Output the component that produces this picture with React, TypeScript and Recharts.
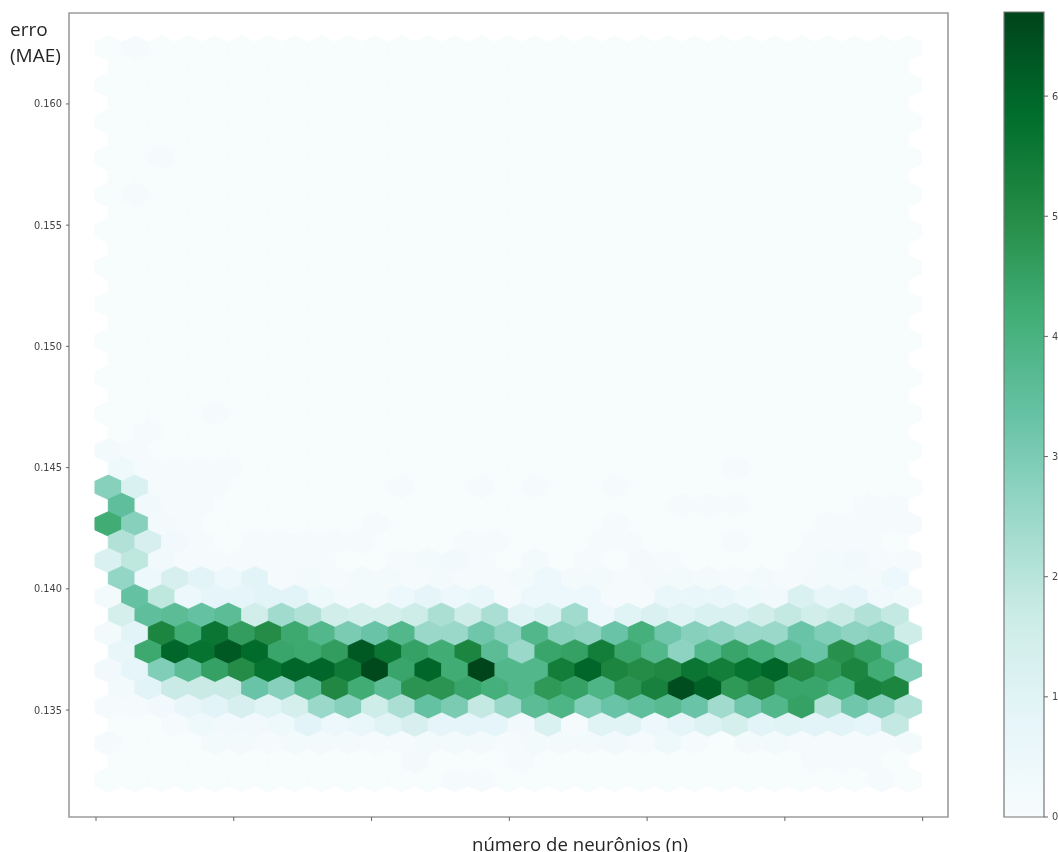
import {
  Bar,
  BarChart,
  ReferenceArea,
  Scatter,
  ScatterChart,
  XAxis,
  YAxis,
} from 'recharts';

// hexbin grid: odd rows sit half a cell to the right
const columnsWide = [
  4.46, 14.14, 23.82, 33.49, 43.17, 52.85, 62.52, 72.2, 81.88, 91.55, 101.23, 110.91, 120.58, 130.26, 139.94, 149.62,
  159.29, 168.97, 178.65, 188.32, 198.0, 207.68, 217.35, 227.03, 236.71, 246.39, 256.06, 265.74, 275.42, 285.09, 294.77,
];
const columnsNarrow = [
  9.3, 18.98, 28.66, 38.33, 48.01, 57.69, 67.36, 77.04, 86.72, 96.39, 106.07, 115.75, 125.42, 135.1, 144.78, 154.46,
  164.13, 173.81, 183.49, 193.16, 202.84, 212.52, 222.19, 231.87, 241.55, 251.23, 260.9, 270.58, 280.26, 289.93,
];
const rowErrors = [
  0.1623, 0.16155, 0.16079, 0.16004, 0.15928, 0.15853, 0.15777, 0.15702, 0.15626, 0.15551, 0.15476, 0.154, 0.15325,
  0.15249, 0.15174, 0.15098, 0.15023, 0.14947, 0.14872, 0.14797, 0.14721, 0.14646, 0.1457, 0.14495, 0.14419, 0.14344,
  0.14268, 0.14193, 0.14117, 0.14042, 0.13967, 0.13891, 0.13816, 0.1374, 0.13665, 0.13589, 0.13514, 0.13438, 0.13363,
  0.13288, 0.13212,
];

// counts per cell, top row first
const rowCounts = [
  [0, 1, 0, 0, 0, 0, 0, 0, 0, 0, 0, 0, 0, 0, 0, 0, 0, 0, 0, 0, 0, 0, 0, 0, 0, 0, 0, 0, 0, 0, 0],
  [0, 0, 0, 0, 0, 0, 0, 0, 0, 0, 0, 0, 0, 0, 0, 0, 0, 0, 0, 0, 0, 0, 0, 0, 0, 0, 0, 0, 0, 0],
  [0, 0, 0, 0, 0, 0, 0, 0, 0, 0, 0, 0, 0, 0, 0, 0, 0, 0, 0, 0, 0, 0, 0, 0, 0, 0, 0, 0, 0, 0, 0],
  [0, 0, 0, 0, 0, 0, 0, 0, 0, 0, 0, 0, 0, 0, 0, 0, 0, 0, 0, 0, 0, 0, 0, 0, 0, 0, 0, 0, 0, 0],
  [0, 0, 0, 0, 0, 0, 0, 0, 0, 0, 0, 0, 0, 0, 0, 0, 0, 0, 0, 0, 0, 0, 0, 0, 0, 0, 0, 0, 0, 0, 0],
  [0, 0, 0, 0, 0, 0, 0, 0, 0, 0, 0, 0, 0, 0, 0, 0, 0, 0, 0, 0, 0, 0, 0, 0, 0, 0, 0, 0, 0, 0],
  [0, 0, 1, 0, 0, 0, 0, 0, 0, 0, 0, 0, 0, 0, 0, 0, 0, 0, 0, 0, 0, 0, 0, 0, 0, 0, 0, 0, 0, 0, 0],
  [0, 0, 0, 0, 0, 0, 0, 0, 0, 0, 0, 0, 0, 0, 0, 0, 0, 0, 0, 0, 0, 0, 0, 0, 0, 0, 0, 0, 0, 0],
  [0, 1, 0, 0, 0, 0, 0, 0, 0, 0, 0, 0, 0, 0, 0, 0, 0, 0, 0, 0, 0, 0, 0, 0, 0, 0, 0, 0, 0, 0, 0],
  [0, 0, 0, 0, 0, 0, 0, 0, 0, 0, 0, 0, 0, 0, 0, 0, 0, 0, 0, 0, 0, 0, 0, 0, 0, 0, 0, 0, 0, 0],
  [0, 0, 0, 0, 0, 0, 0, 0, 0, 0, 0, 0, 0, 0, 0, 0, 0, 0, 0, 0, 0, 0, 0, 0, 0, 0, 0, 0, 0, 0, 0],
  [0, 0, 0, 0, 0, 0, 0, 0, 0, 0, 0, 0, 0, 0, 0, 0, 0, 0, 0, 0, 0, 0, 0, 0, 0, 0, 0, 0, 0, 0],
  [0, 0, 0, 0, 0, 0, 0, 0, 0, 0, 0, 0, 0, 0, 0, 0, 0, 0, 0, 0, 0, 0, 0, 0, 0, 0, 0, 0, 0, 0, 0],
  [0, 0, 0, 0, 0, 0, 0, 0, 0, 0, 0, 0, 0, 0, 0, 0, 0, 0, 0, 0, 0, 0, 0, 0, 0, 0, 0, 0, 0, 0],
  [0, 0, 0, 0, 0, 0, 0, 0, 0, 0, 0, 0, 0, 0, 0, 0, 0, 0, 0, 0, 0, 0, 0, 0, 0, 0, 0, 0, 0, 0, 0],
  [0, 0, 0, 0, 0, 0, 0, 0, 0, 0, 0, 0, 0, 0, 0, 0, 0, 0, 0, 0, 0, 0, 0, 0, 0, 0, 0, 0, 0, 0],
  [0, 0, 0, 0, 0, 0, 0, 0, 0, 0, 0, 0, 0, 0, 0, 0, 0, 0, 0, 0, 0, 0, 0, 0, 0, 0, 0, 0, 0, 0, 0],
  [0, 0, 0, 0, 0, 0, 0, 0, 0, 0, 0, 0, 0, 0, 0, 0, 0, 0, 0, 0, 0, 0, 0, 0, 0, 0, 0, 0, 0, 0],
  [0, 0, 0, 0, 0, 0, 0, 0, 0, 0, 0, 0, 0, 0, 0, 0, 0, 0, 0, 0, 0, 0, 0, 0, 0, 0, 0, 0, 0, 0, 0],
  [0, 0, 0, 0, 0, 0, 0, 0, 0, 0, 0, 0, 0, 0, 0, 0, 0, 0, 0, 0, 0, 0, 0, 0, 0, 0, 0, 0, 0, 0],
  [0, 0, 0, 0, 1, 0, 0, 0, 0, 0, 0, 0, 0, 0, 0, 0, 0, 0, 0, 0, 0, 0, 0, 0, 0, 0, 0, 0, 0, 0, 0],
  [0, 1, 0, 0, 0, 0, 0, 0, 0, 0, 0, 0, 0, 0, 0, 0, 0, 0, 0, 0, 0, 0, 0, 0, 0, 0, 0, 0, 0, 0],
  [2, 1, 0, 0, 0, 0, 0, 0, 0, 0, 0, 0, 0, 0, 0, 0, 0, 0, 0, 0, 0, 0, 0, 0, 0, 0, 0, 0, 0, 0, 0],
  [4, 1, 1, 1, 1, 0, 0, 0, 0, 0, 0, 0, 0, 0, 0, 0, 0, 0, 0, 0, 0, 0, 0, 1, 0, 0, 0, 0, 0, 0],
  [28, 12, 1, 1, 1, 0, 0, 0, 0, 0, 0, 1, 0, 0, 1, 0, 1, 0, 0, 1, 0, 0, 0, 0, 0, 0, 0, 0, 0, 0, 0],
  [35, 3, 1, 1, 0, 0, 0, 0, 0, 0, 0, 0, 0, 0, 0, 0, 0, 0, 0, 0, 0, 1, 1, 1, 0, 0, 0, 0, 1, 1],
  [42, 28, 2, 1, 0, 0, 0, 0, 0, 0, 1, 0, 0, 0, 0, 0, 0, 0, 0, 1, 0, 0, 0, 0, 0, 0, 0, 1, 1, 1, 1],
  [21, 13, 3, 1, 0, 1, 1, 1, 1, 1, 0, 0, 0, 1, 1, 0, 0, 0, 1, 1, 0, 0, 0, 1, 0, 0, 1, 1, 1, 0],
  [12, 19, 3, 1, 1, 1, 1, 1, 1, 0, 0, 1, 2, 3, 1, 0, 2, 0, 1, 0, 2, 1, 0, 0, 0, 0, 1, 2, 3, 1, 1],
  [26, 5, 13, 9, 5, 9, 1, 2, 1, 2, 2, 1, 2, 1, 1, 2, 5, 2, 2, 1, 2, 2, 2, 1, 2, 1, 2, 2, 2, 5],
  [2, 34, 19, 5, 8, 8, 9, 9, 4, 2, 2, 5, 8, 5, 6, 1, 5, 5, 5, 1, 1, 6, 6, 6, 4, 3, 12, 7, 8, 3, 2],
  [14, 35, 36, 34, 36, 15, 24, 21, 15, 14, 14, 16, 22, 16, 22, 10, 12, 24, 5, 10, 12, 10, 12, 12, 15, 18, 15, 17, 21, 18],
  [2, 9, 52, 42, 56, 46, 50, 43, 38, 30, 33, 38, 25, 25, 32, 27, 38, 28, 27, 33, 41, 32, 28, 27, 25, 25, 33, 29, 27, 28, 16],
  [7, 43, 60, 57, 63, 59, 44, 43, 46, 63, 56, 45, 42, 52, 36, 25, 44, 45, 54, 44, 38, 27, 38, 44, 41, 37, 33, 49, 45, 34],
  [3, 8, 29, 36, 45, 50, 57, 60, 60, 55, 66, 44, 60, 42, 67, 38, 38, 54, 60, 52, 50, 51, 56, 54, 57, 60, 51, 47, 52, 42, 29],
  [2, 9, 17, 17, 17, 33, 28, 37, 51, 42, 36, 48, 48, 44, 41, 38, 47, 45, 39, 48, 53, 65, 61, 47, 51, 44, 44, 41, 53, 52],
  [1, 1, 3, 7, 9, 13, 10, 14, 25, 28, 16, 22, 34, 30, 18, 25, 36, 39, 29, 33, 35, 37, 33, 24, 32, 38, 45, 21, 32, 28, 21],
  [0, 0, 1, 4, 3, 3, 4, 9, 5, 6, 10, 13, 8, 8, 8, 3, 12, 1, 10, 10, 5, 8, 11, 14, 9, 10, 9, 9, 8, 18],
  [1, 0, 0, 0, 2, 2, 1, 2, 2, 2, 1, 1, 2, 2, 2, 1, 2, 2, 2, 3, 1, 4, 1, 0, 2, 2, 1, 1, 1, 1, 2],
  [0, 0, 0, 0, 0, 0, 0, 0, 0, 0, 0, 2, 0, 0, 0, 1, 0, 0, 0, 0, 0, 0, 0, 0, 0, 0, 1, 1, 1, 0],
  [0, 0, 0, 0, 0, 0, 0, 0, 0, 0, 0, 0, 0, 1, 1, 0, 0, 0, 0, 0, 0, 0, 0, 0, 0, 0, 0, 0, 0, 1, 0],
];

const xTicks = [0, 50, 100, 150, 200, 250, 300];
const yTicks = [0.135, 0.14, 0.145, 0.15, 0.155, 0.16];
const colorbarTicks = [0, 10, 20, 30, 40, 50, 60];
const maxCount = 67;

// BuGn
const colorStops = ['#f7fcfd', '#e5f5f9', '#ccece6', '#99d8c9', '#66c2a4', '#41ae76', '#238b45', '#006d2c', '#00441b'];

const hexHalfWidth = 13.33;
const hexTop = 12.2;
const hexShoulder = 6.1;

function channel(hex: string, start: number) {
  return parseInt(hex.slice(start, start + 2), 16);
}

function countColor(count: number) {
  const pos = (Math.min(count, maxCount) / maxCount) * (colorStops.length - 1);
  const i = Math.min(Math.floor(pos), colorStops.length - 2);
  const t = pos - i;
  const mix = (start: number) =>
    Math.round(channel(colorStops[i], start) * (1 - t) + channel(colorStops[i + 1], start) * t);
  return `rgb(${mix(1)},${mix(3)},${mix(5)})`;
}

const cells = rowCounts.flatMap((counts, r) =>
  counts.map((count, c) => ({
    n: (r % 2 === 0 ? columnsWide : columnsNarrow)[c],
    error: rowErrors[r],
    count,
  })),
);

const colorbarData = [{ name: 'count', value: maxCount }];

function HexCell(props: any) {
  const { cx, cy, payload } = props;
  const color = countColor(payload.count);
  const points = [
    [0, -hexTop],
    [hexHalfWidth, -hexShoulder],
    [hexHalfWidth, hexShoulder],
    [0, hexTop],
    [-hexHalfWidth, hexShoulder],
    [-hexHalfWidth, -hexShoulder],
  ]
    .map(([dx, dy]) => `${cx + dx},${cy + dy}`)
    .join(' ');
  // stroke in the fill colour closes the antialiasing seams between cells
  return <polygon points={points} fill={color} stroke={color} strokeWidth={0.9} strokeLinejoin='round' />;
}

const axisLabelStyle = {
  position: 'absolute' as const,
  fontFamily: '"Open Sans", sans-serif',
  color: '#262626',
  lineHeight: '26px',
};

export default function App() {
  return (
    // the reference is a soft screenshot, hence the slight blur
    <div
      style={{
        position: 'absolute',
        left: 0,
        top: 0,
        width: 1058,
        height: 852,
        overflow: 'hidden',
        background: '#fff',
        filter: 'blur(0.5px)',
      }}
    >
      <ScatterChart width={960} height={852} margin={{ top: 13, right: 12, bottom: 0, left: 0 }}>
        <XAxis
          type='number'
          dataKey='n'
          domain={[-9.8, 309.2]}
          ticks={xTicks}
          tickFormatter={() => ''}
          tickSize={4}
          height={35}
          stroke='#666'
          axisLine={false}
        />
        <YAxis
          type='number'
          dataKey='error'
          domain={[0.13059, 0.16375]}
          ticks={yTicks}
          tickFormatter={(v: number) => v.toFixed(3)}
          tick={{ fontSize: 9.8, fontFamily: 'DejaVu Sans', fill: '#444' }}
          tickSize={3}
          tickMargin={4}
          width={69}
          stroke='#666'
          axisLine={false}
          interval={0}
        />
        <Scatter data={cells} shape={HexCell} isAnimationActive={false} />
        <ReferenceArea
          x1={-9.8}
          x2={309.2}
          y1={0.13059}
          y2={0.16375}
          fill='none'
          stroke='#9c9c9c'
          strokeWidth={1.6}
        />
      </ScatterChart>

      <div style={{ position: 'absolute', left: 996, top: 0 }}>
        <BarChart
          width={62}
          height={852}
          data={colorbarData}
          barCategoryGap={0}
          margin={{ top: 12, right: 0, bottom: 35, left: 8 }}
        >
          <defs>
            <linearGradient id='bugn' x1='0' y1='1' x2='0' y2='0'>
              {colorStops.map((color, i) => (
                <stop key={color} offset={i / (colorStops.length - 1)} stopColor={color} />
              ))}
            </linearGradient>
          </defs>
          <XAxis dataKey='name' hide />
          <YAxis
            orientation='right'
            domain={[0, maxCount]}
            ticks={colorbarTicks}
            tick={{ fontSize: 9.8, fontFamily: 'DejaVu Sans', fill: '#444', textAnchor: 'start' }}
            tickSize={4}
            tickMargin={4}
            width={14}
            stroke='#666'
            axisLine={false}
            interval={0}
          />
          <Bar dataKey='value' fill='url(#bugn)' stroke='#777' strokeWidth={1.2} isAnimationActive={false} />
        </BarChart>
      </div>

      <div style={{ ...axisLabelStyle, left: 10, top: 16, fontSize: 19 }}>
        erro
        <br />
        (MAE)
      </div>
      <div style={{ ...axisLabelStyle, left: 472, top: 831, fontSize: 18.6 }}>número de neurônios (n)</div>
    </div>
  );
}
